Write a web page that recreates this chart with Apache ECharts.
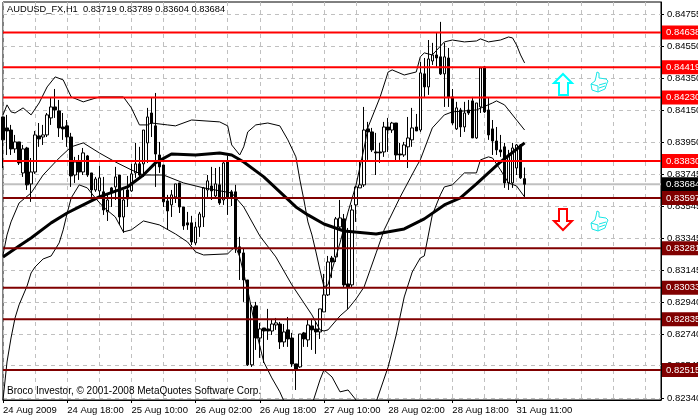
<!DOCTYPE html>
<html><head><meta charset="utf-8">
<style>html,body{margin:0;padding:0;background:#fff}#c{width:698px;height:417px}</style>
<script src="https://cdn.jsdelivr.net/npm/echarts@6/dist/echarts.min.js"></script>
</head><body><div id="c"></div>
<script>
const tickLabels=['24 Aug 2009','24 Aug 18:00','25 Aug 10:00','26 Aug 02:00','26 Aug 18:00','27 Aug 10:00','28 Aug 02:00','28 Aug 18:00','31 Aug 11:00'];
const priceTicks=[0.84755,0.8455,0.8435,0.8415,0.8395,0.83745,0.83545,0.83345,0.83145,0.8294,0.8274,0.82545,0.8234];
const redLevels=[0.84638,0.84419,0.8423,0.8383];
const darkLevels=[0.83597,0.83281,0.83033,0.82835,0.82515];
const currentPrice=0.83684;
const opens=[.84107,.84038,.84025,.83906,.8395,.83755,.83912,.83686,.83761,.83988,.83981,.83994,.84101,.8417,.84145,.84044,.84051,.83981,.83742,.83824,.83761,.83862,.83755,.83648,.83642,.83636,.8351,.83661,.83667,.83742,.83478,.83648,.83642,.83755,.83812,.83812,.83944,.84132,.84051,.83868,.83805,.83579,.83554,.83604,.83692,.83541,.83441,.83441,.83315,.83415,.83478,.83648,.83673,.8361,.8368,.83585,.83824,.83636,.83636,.8329,.83252,.83082,.82548,.82919,.82717,.8278,.82774,.82761,.82799,.82805,.82692,.82768,.82717,.82554,.82535,.82749,.82705,.82793,.82774,.82755,.82881,.82988,.8322,.83227,.83415,.83466,.83057,.83051,.83554,.83661,.8368,.84032,.84013,.83887,.83887,.83887,.84044,.84025,.84069,.83874,.83868,.83919,.83963,.84044,.84025,.84378,.84296,.84459,.84497,.84485,.84378,.84478,.84233,.84032,.84151,.84044,.84151,.84208,.83975,.8417,.84422,.84151,.84032,.83956,.839,.83919,.83692,.83692,.83786,.83931,.83719];
const closes=[.83963,.84019,.83906,.8395,.83818,.83906,.8368,.83761,.83994,.83969,.83994,.8412,.8417,.84151,.84038,.84032,.83981,.83736,.83824,.83761,.83881,.83742,.83648,.83717,.83724,.83522,.83585,.83636,.8373,.83478,.83585,.83591,.83749,.83812,.83742,.84025,.84107,.84069,.83874,.83793,.83573,.83516,.83617,.83686,.83541,.83422,.83428,.83321,.83415,.83497,.83661,.83705,.83642,.83686,.83566,.83818,.83604,.83604,.83283,.83252,.83082,.82548,.82912,.82717,.82774,.82761,.82761,.82805,.82812,.82692,.82755,.82711,.82554,.82522,.82742,.82711,.82799,.82768,.82755,.829,.82988,.83195,.83195,.83466,.83472,.83051,.83038,.83522,.83667,.8368,.84025,.84013,.839,.83881,.83881,.84044,.84025,.84069,.83868,.83868,.83931,.83975,.84038,.84019,.84384,.84296,.84472,.84497,.84478,.84378,.84485,.84233,.84069,.84164,.84044,.84132,.84132,.83975,.84195,.84415,.84139,.83994,.83956,.839,.83887,.83692,.83868,.83912,.83931,.83724,.83684];
const lows=[.83786,.83868,.83868,.83881,.83805,.8373,.83648,.83573,.83749,.83919,.83931,.83981,.84057,.84101,.83981,.83963,.83919,.83667,.83692,.83711,.83742,.8373,.83604,.83636,.83604,.83491,.83453,.83541,.83585,.83428,.83378,.83541,.83636,.83724,.83724,.8373,.83818,.83981,.83667,.83755,.83541,.83397,.83478,.83566,.83503,.83397,.83397,.83302,.83302,.83353,.83415,.83604,.83585,.83598,.83554,.83554,.83491,.83547,.83252,.83082,.82944,.82541,.82535,.82642,.82592,.8256,.82705,.82736,.82768,.82648,.82661,.82661,.82535,.8239,.82529,.82661,.82661,.82642,.82617,.82711,.82881,.82981,.83095,.83195,.83397,.83032,.829,.83038,.83447,.83661,.83667,.83837,.83887,.83742,.83818,.83856,.83887,.84007,.83824,.83837,.83856,.83786,.83919,.84019,.84013,.84233,.84246,.84434,.84422,.84371,.8417,.8417,.84057,.84025,.83981,.84013,.8412,.83975,.83969,.84132,.84132,.83963,.83868,.83868,.83856,.83661,.83648,.83661,.83742,.83717,.83604];
const highs=[.84107,.8412,.84057,.83994,.8395,.83931,.83919,.83849,.84019,.84069,.84057,.84132,.84227,.84283,.84214,.84132,.84088,.84007,.83856,.83868,.83912,.83868,.83755,.8373,.83799,.8373,.83617,.83667,.83793,.83742,.83648,.83736,.83812,.83944,.83919,.84025,.84164,.84227,.84258,.8395,.83805,.83617,.83648,.83686,.83692,.83541,.8351,.83485,.83447,.8351,.83667,.83742,.83793,.83786,.83793,.83824,.83862,.83648,.8368,.83353,.83283,.83082,.82925,.82944,.82812,.8278,.829,.82831,.82843,.82818,.82805,.82849,.82749,.82554,.82742,.82755,.82831,.82837,.82818,.829,.8312,.83233,.83233,.83478,.83585,.83497,.83409,.83554,.83673,.83824,.8417,.84076,.84038,.84007,.83944,.84076,.84101,.84076,.84069,.83944,.8395,.84107,.84164,.84126,.84453,.84478,.84591,.84573,.84635,.84705,.84573,.84541,.84283,.84202,.84164,.84202,.84214,.84233,.84195,.84422,.84428,.84227,.84088,.84044,.83994,.83944,.839,.83944,.83937,.83937,.83789];
const upperAt=[0,1,2,3,5,7,9,11,13,15,17,20,24,30,32,34,36,37,41,43,47,54,56,57,59,60,61,63,66,69,71,73,74,75,76,77,78,79,80,81,82,84,86,88,90,91,94,96,97,100,103,104,105,107,110,112,115,118,119,121,124,126,127,128,129,130];
const upperBand=[.8412,.84183,.84139,.84132,.84164,.8412,.84195,.84296,.84359,.8434,.84233,.84202,.84233,.84233,.84164,.84057,.84057,.84069,.84057,.84051,.84088,.84076,.84051,.83931,.83868,.83919,.84013,.84057,.84069,.84051,.83963,.83856,.83711,.83585,.83447,.83365,.83258,.83145,.83038,.83051,.83145,.83315,.8351,.8368,.83912,.84044,.84233,.8439,.84403,.84371,.8439,.84485,.8451,.84497,.84579,.84591,.84579,.84585,.84598,.84579,.84591,.8461,.84604,.8456,.84497,.84447];
const middleAt=[0,1,2,4,7,10,14,17,20,24,28,32,35,40,45,50,57,60,64,68,72,77,79,80,81,84,86,88,90,93,95,99,103,104,107,110,112,118,122,123,125,128,130];
const middleBand=[.83239,.83365,.83447,.83566,.83629,.83742,.83849,.83919,.83944,.83881,.83824,.83774,.83742,.83742,.83692,.83661,.83629,.83541,.83359,.83227,.83051,.82862,.82768,.82761,.82768,.82856,.829,.82963,.83038,.83252,.83397,.83604,.83793,.83837,.84038,.8412,.84139,.84151,.84195,.84208,.84183,.84088,.84025];
const lowerAt=[0,1,2,3,4,6,7,8,10,12,14,15,16,17,19,21,23,25,28,30,32,35,39,43,46,48,50,56,57,58,59,61,63,65,67,69,71,75,77,79,80,82,84,86,88,90,93,96,98,100,102,104,105,107,109,110,112,115,118,119,121,122,124,126,128,130];
const lowerBand=[.82327,.82566,.82717,.82843,.82925,.83044,.83126,.83164,.83214,.83233,.83315,.83397,.83503,.83598,.8368,.83661,.83598,.83541,.83478,.83384,.83397,.83453,.83428,.83371,.83321,.83258,.83239,.83246,.83271,.8329,.83227,.83019,.82768,.82566,.82466,.82378,.82264,.82264,.82296,.82453,.82516,.82472,.82378,.8239,.82327,.82233,.82315,.82535,.82736,.82975,.83132,.8322,.83233,.83491,.83617,.83667,.8368,.83755,.83755,.83837,.83856,.83849,.83774,.83692,.83673,.83604];
const maAt=[0,4,7,12,16,19,24,31,35,38,42,48,54,57,60,65,73,76,80,85,93,100,105,110,114,118,124,130];
const movingAverage=[.83227,.83296,.83346,.83441,.83503,.83541,.83604,.83667,.83742,.83818,.83874,.83868,.83881,.83868,.83824,.8373,.83541,.83491,.83434,.8339,.83371,.83403,.83466,.83554,.83598,.83686,.83824,.83944];
const headerText='AUDUSD_FX,H1  0.83719 0.83789 0.83604 0.83684';
const copyrightText='Broco Investor, © 2001-2008 MetaQuotes Software Corp.';

const FONT='"Liberation Sans"';
const N=165;
const categories=Array.from({length:N},(_,i)=>i%16===0&&tickLabels[i/16]?tickLabels[i/16]:'h'+i);
const candles=opens.map((o,i)=>[o,closes[i],lows[i],highs[i]]);
const pairs=(xs,ys)=>xs.map((x,i)=>[x,ys[i]]);
const band=(xs,ys,w)=>({type:'line',data:pairs(xs,ys),showSymbol:false,symbol:'none',silent:true,z:3,clip:true,lineStyle:{color:'#000',width:w}});
const levelSeries=(v,c,bg,z)=>({type:'line',data:[[0,v],[N-1,v]],symbol:'none',silent:true,z,clip:false,
  lineStyle:{color:c,width:2},
  endLabel:{show:true,formatter:()=>v.toFixed(5),distance:1,color:'#fff',backgroundColor:bg,fontFamily:FONT,fontSize:9.5,padding:[2,4,2,4],align:'left',verticalAlign:'middle'}});
const thumbOutline=[[6,0],[8,1],[8,6],[15,7],[17,9],[16,11],[15,14],[14,17],[7,20],[1,18],[0,12],[4,9],[5,5]];
const thumbLines=[[[8,13],[15,11]],[[8,16],[14,14]],[[0,12],[7,14],[7,20]]];
const thumbGroup=(x,y)=>({type:'group',x,y,z:20,children:[
 {type:'polygon',z:20,shape:{points:thumbOutline},style:{fill:'#fff',stroke:'#19e6e6',lineWidth:1}}
].concat(thumbLines.map(p=>({type:'polyline',z:21,shape:{points:p},style:{fill:null,stroke:'#19e6e6',lineWidth:1}})))});
const chart=echarts.init(document.getElementById('c'),null,{renderer:'canvas'});
chart.setOption({
 animation:false,
 backgroundColor:'#fff',
 grid:{left:3,top:2,right:37,bottom:17,outerBoundsMode:'none',containLabel:false,show:true,borderColor:'#000',borderWidth:1,backgroundColor:'#fff'},
 title:[
  {text:headerText,left:7,top:5,padding:0,textStyle:{fontFamily:FONT,fontSize:9.3,fontWeight:'normal',color:'#000'}},
  {text:copyrightText,left:7,top:386,padding:0,textStyle:{fontFamily:FONT,fontSize:10,fontWeight:'normal',color:'#000'}}
 ],
 xAxis:{type:'category',boundaryGap:false,data:categories,
  axisLine:{lineStyle:{color:'#000'}},
  axisTick:{show:true,length:3,lineStyle:{color:'#000'},interval:(i)=>i%16===0&&i/16<tickLabels.length},
  axisLabel:{interval:(i)=>i%16===0&&i/16<tickLabels.length,formatter:(v)=>v,align:'left',margin:5,color:'#000',fontFamily:FONT,fontSize:9.5,hideOverlap:false,showMinLabel:true},
  splitLine:{show:true,interval:(i)=>i%8===0,lineStyle:{color:'#c0c0c0',type:[4,4]}}},
 yAxis:{type:'value',position:'right',min:0.82327,max:0.8483,scale:true,
  axisLine:{show:true,lineStyle:{color:'#000'}},
  axisTick:{show:true,length:3,lineStyle:{color:'#000'},customValues:priceTicks},
  axisLabel:{customValues:priceTicks,formatter:(v)=>v.toFixed(5),margin:6,color:'#000',fontFamily:FONT,fontSize:9.5,showMinLabel:true,showMaxLabel:true},
  splitLine:{show:true,lineStyle:{color:'#c0c0c0',type:[4,4]}}},
 series:[
  {type:'candlestick',data:candles,barWidth:3,z:2,silent:true,clip:false,itemStyle:{color:'#fff',color0:'#000',borderColor:'#000',borderColor0:'#000',borderWidth:1}},
  band(upperAt,upperBand,1),
  band(middleAt,middleBand,1),
  band(lowerAt,lowerBand,1),
  band(maAt,movingAverage,3),
  levelSeries(currentPrice,'#c0c0c0','#000',1)
 ].concat(redLevels.map(v=>levelSeries(v,'#ff0000','#ff0000',5)))
  .concat(darkLevels.map(v=>levelSeries(v,'#800000','#800000',5))),
 graphic:[
  {type:'polygon',z:20,shape:{points:[[563,74],[572,83],[568,83],[568,95],[559,95],[559,83],[554,83]]},style:{fill:'#fff',stroke:'#00ffff',lineWidth:2}},
  {type:'polygon',z:20,shape:{points:[[559,209],[567,209],[567,221],[572,221],[563,230],[554,221],[559,221]]},style:{fill:'#fff',stroke:'#ff0000',lineWidth:2}},
  thumbGroup(591,72),
  thumbGroup(591,211)
 ]
});
</script></body></html>
